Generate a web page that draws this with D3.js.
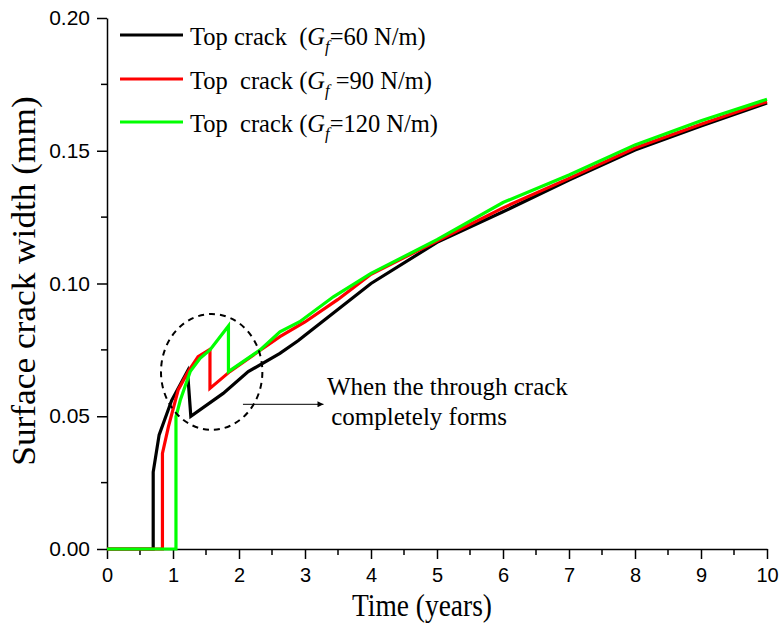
<!DOCTYPE html>
<html><head><meta charset="utf-8">
<script src="https://cdn.jsdelivr.net/npm/d3@7"></script>
<style>
body{margin:0;background:#fff;}
text{white-space:pre;}
</style>
</head><body>
<svg id="chart" width="783" height="630"></svg>
<script>
// ---- data ----
const xTicks = [0,1,2,3,4,5,6,7,8,9,10];
const yTicks = [0.00,0.05,0.10,0.15,0.20];
const yTickLabels = ["0.00","0.05","0.10","0.15","0.20"];

const blackX = [0,0.70,0.70,0.79,0.98,1.22,1.27,1.76,2.14,2.62,2.90,3.0,4.0,5.0,6.0,7.0,8.0,9.0,10.0];
const blackY = [0,0,0.029,0.043,0.056,0.067,0.050,0.0586,0.0668,0.0737,0.0785,0.0805,0.100,0.1155,0.127,0.139,0.1503,0.1593,0.168];

const redX = [0,0.84,0.84,0.93,1.08,1.23,1.38,1.56,1.56,1.86,2.3,2.62,3.0,3.5,4.0,5.0,6.0,7.0,8.0,9.0,10.0];
const redY = [0,0,0.036,0.046,0.060,0.0668,0.0724,0.0752,0.0605,0.0668,0.0745,0.080,0.0855,0.094,0.1035,0.116,0.1285,0.1396,0.151,0.160,0.1685];

const greenX = [0,1.045,1.045,1.11,1.26,1.41,1.56,1.84,1.84,2.32,2.62,2.92,3.43,4.0,5.0,6.0,7.0,8.0,9.0,10.0];
const greenY = [0,0,0.0498,0.056,0.0668,0.0718,0.075,0.084,0.0668,0.075,0.0818,0.0856,0.095,0.1038,0.1165,0.1305,0.1409,0.1522,0.1613,0.1694];

const seriesNames = ["60","90","120"];
const seriesColors = ["#000000","#ff0000","#00ff00"];

// annotation (data units)
const ellipseCenter = [1.586, 0.0667];
const ellipseRadii = [0.768, 0.0218];
const arrowFrom = [2.06, 0.0545];
const arrowTo = [3.28, 0.0545];

// ---- chart ----
const svg = d3.select("#chart");
const mLeft = 107, mRight = 767, mTop = 18, mBottom = 549;
const x = d3.scaleLinear().domain([0,10]).range([mLeft,mRight]);
const y = d3.scaleLinear().domain([0,0.20]).range([mBottom,mTop]);

const sans = "'Liberation Sans', Arial, sans-serif";
const serif = "'Liberation Serif', 'Times New Roman', serif";

// minor ticks
const xMinor = d3.range(0.5,10,1);
const yMinor = [0.025,0.075,0.125,0.175];
svg.append("g").selectAll("line").data(xMinor).join("line")
  .attr("x1",d=>x(d)).attr("x2",d=>x(d)).attr("y1",mBottom).attr("y2",mBottom+6)
  .attr("stroke","#000").attr("stroke-width",1.5);
svg.append("g").selectAll("line").data(yMinor).join("line")
  .attr("y1",d=>y(d)).attr("y2",d=>y(d)).attr("x1",mLeft).attr("x2",mLeft-6)
  .attr("stroke","#000").attr("stroke-width",1.5);

const xAxis = svg.append("g").attr("transform",`translate(0,${mBottom})`)
  .call(d3.axisBottom(x).tickValues(xTicks).tickFormat(d3.format("d")).tickSize(10).tickSizeOuter(0));
const yAxis = svg.append("g").attr("transform",`translate(${mLeft},0)`)
  .call(d3.axisLeft(y).tickValues(yTicks).tickFormat((d,i)=>yTickLabels[i]).tickSize(10).tickSizeOuter(0));
[xAxis,yAxis].forEach(g=>{
  g.select(".domain").attr("stroke","#000").attr("stroke-width",1.5);
  g.selectAll(".tick line").attr("stroke","#000").attr("stroke-width",1.5);
  g.selectAll(".tick text").attr("font-family",sans).attr("fill","#000");
});
xAxis.selectAll(".tick text").attr("font-size",20).attr("dy","0.71em").attr("y",19);
yAxis.selectAll(".tick text").attr("font-size",21).attr("x",-17);

// axis titles
svg.append("text").attr("transform","translate(422,616) scale(0.885,1)").attr("text-anchor","middle")
  .attr("font-family",serif).attr("font-size",31).text("Time (years)");
svg.append("text").attr("transform","translate(35,281) scale(1,1.07) rotate(-90)").attr("text-anchor","middle")
  .attr("font-family",serif).attr("font-size",33).text("Surface crack width (mm)");

// lines
const line = d3.line().x(d=>x(d[0])).y(d=>y(d[1]));
const allSeries = [
  d3.zip(blackX,blackY),
  d3.zip(redX,redY),
  d3.zip(greenX,greenY)
];
svg.append("g").selectAll("path").data(allSeries).join("path")
  .attr("d",line).attr("fill","none")
  .attr("stroke",(d,i)=>seriesColors[i]).attr("stroke-width",3.2)
  .attr("stroke-linejoin","miter").attr("stroke-miterlimit",4);

// ellipse
svg.append("ellipse")
  .attr("cx",x(ellipseCenter[0])).attr("cy",y(ellipseCenter[1]))
  .attr("rx",x(ellipseRadii[0])-x(0)).attr("ry",y(0)-y(ellipseRadii[1]))
  .attr("fill","none").attr("stroke","#000").attr("stroke-width",2).attr("stroke-dasharray","6,5");

// arrow
svg.append("defs").append("marker").attr("id","ah").attr("viewBox","0 0 10 10")
  .attr("refX",10).attr("refY",5).attr("markerWidth",12).attr("markerHeight",6)
  .attr("markerUnits","userSpaceOnUse").attr("orient","auto")
  .append("path").attr("d","M0,0 L10,5 L0,10 Z").attr("fill","#000");
svg.append("line").attr("x1",x(arrowFrom[0])).attr("y1",y(arrowFrom[1]))
  .attr("x2",x(arrowTo[0])).attr("y2",y(arrowTo[1]))
  .attr("stroke","#000").attr("stroke-width",1).attr("marker-end","url(#ah)");
svg.append("text").attr("x",327).attr("y",395).attr("font-family",serif).attr("font-size",25)
  .text("When the through crack");
svg.append("text").attr("x",325).attr("y",425).attr("font-family",serif).attr("font-size",25)
  .text(" completely forms");

// legend
const legPre = ["Top crack  (","Top  crack (","Top  crack ("];
const legPost = ["=60 N/m)"," =90 N/m)","=120 N/m)"];
const legY = [35,79,122];
const leg = svg.append("g");
seriesNames.forEach((n,i)=>{
  leg.append("line").attr("x1",120).attr("x2",183).attr("y1",legY[i]).attr("y2",legY[i])
    .attr("stroke",seriesColors[i]).attr("stroke-width",3.2);
  const t = leg.append("text").attr("x",190).attr("y",legY[i]+10)
    .attr("font-family",serif).attr("font-size",24.5);
  t.append("tspan").text(legPre[i]);
  t.append("tspan").attr("font-style","italic").text("G");
  t.append("tspan").attr("font-style","italic").attr("font-size",16.5).attr("dy",7).text("f");
  t.append("tspan").attr("dy",-7).text(legPost[i]);
});
</script>
</body></html>
